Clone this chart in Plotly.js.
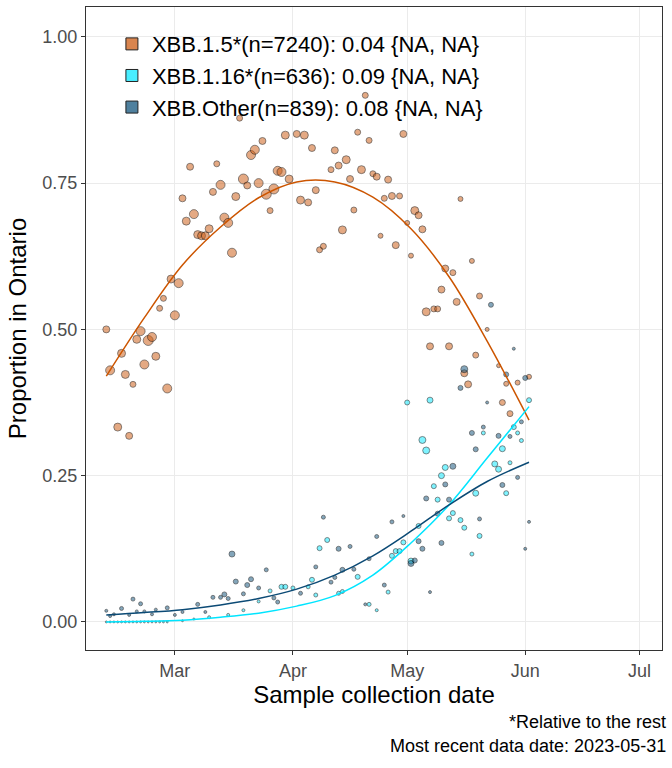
<!DOCTYPE html>
<html>
<head>
<meta charset="utf-8">
<script src="https://cdn.plot.ly/plotly-3.0.1.min.js"></script>
<style>body{margin:0;background:#fff}#chart{width:672px;height:768px}</style>
</head>
<body>
<div id="chart"></div>
<script>
// day offsets are days from 2023-03-01
const xbb15Day = [-18,-17,-15,-14,-13,-12,-11,-10,-9,-8,-7,-6,-5,-4,-3,-2,-1,0,1,2,3,4,5,6,7,8,9,10,11,12,13,14,15,16,17,18,19,20,21,22,23,24,25,26,27,28,29,30,32,33,34,35,36,37,38,39,41,42,43,44,45,46,47,48,49,50,51,52,53,54,55,56,57,58,59,60,61,62,63,64,65,66,67,68,69,70,71,72,73,74,75,76,77,78,79,80,82,85,86,87,88,90,93]
const xbb15Val = [0.50,0.43,0.333,0.459,0.423,0.318,0.406,0.483,0.497,0.44,0.481,0.487,0.454,0.536,0.553,0.399,0.586,0.524,0.579,0.724,0.685,0.778,0.697,0.662,0.66,0.66,0.672,0.735,0.783,0.747,0.691,0.682,0.631,0.727,0.861,0.757,0.746,0.798,0.807,0.75,0.822,0.731,0.703,0.74,0.771,0.769,0.832,0.757,0.834,0.721,0.832,0.717,0.81,0.738,0.636,0.642,0.773,0.806,0.78,0.67,0.79,0.757,0.704,0.837,0.773,0.9,0.823,0.766,0.761,0.66,0.724,0.756,0.728,0.644,0.728,0.834,0.682,0.626,0.703,0.695,0.671,0.53,0.471,0.535,0.535,0.568,0.604,0.471,0.597,0.547,0.723,0.425,0.406,0.617,0.456,0.557,0.50,0.438,0.375,0.407,0.356,0.409,0.419,0.345]
const xbb15Size = [7,9,8,8,8,7,6,8,9,9,10,9,8,6,6,9,8,9,9,7,8,7,9,8,8,8,8,7,6,9,9,9,9,8,6,10,7,9,9,9,7,10,6,10,9,9,8,8,7,8,8,7,7,7,6,6,6,7,7,8,8,7,6,6,8,6,6,6,7,5,6,7,7,7,6,7,5,5,8,7,7,8,7,6,6,7,7,7,6,7,5,7,7,5,6,6,4,4,6,5,6,5,5,5]

const xbb116Day = [-18,-17,-16,-15,-14,-13,-12,-11,-10,-9,-8,-7,-6,-5,-4,-3,-2,2,5,9,14,18,22,25,28,29,31,35,36,37,38,40,43,44,48,51,53,56,57,58,59,60,61,62,64,65,66,67,68,69,70,71,72,73,75,76,78,79,80,81,84,85,86,87,88,89,90,91,93]
const xbb116Val = [0,0,0,0,0,0,0,0,0,0,0,0,0,0,0,0,0,0.002,0.005,0.008,0.012,0.02,0.035,0.053,0.06,0.06,0.058,0.06,0.072,0.046,0.126,0.14,0.049,0.052,0.077,0.03,0.02,0.051,0.113,0.121,0.121,0.136,0.375,0.104,0.164,0.311,0.293,0.379,0.232,0.209,0.25,0.264,0.177,0.186,0.174,0.161,0.116,0.22,0.147,0.323,0.27,0.261,0.296,0.22,0.272,0.333,0.323,0.31,0.379]
const xbb116Size = [2,2,2,2,2,2,2,2,2,2,2,2,2,2,2,2,2,2,2,3,3,3,3,4,5,5,4,4,5,4,5,5,4,4,5,4,3,4,5,5,5,5,5,6,5,7,7,6,5,5,6,6,5,5,5,5,4,6,5,4,6,6,6,5,4,5,4,4,5]

const xbbOtherDay = [-18,-17,-16,-14,-12,-11,-10,-9,-8,-6,-5,-2,0,2,6,8,10,12,13,14,15,16,18,19,20,22,24,26,27,33,37,39,41,42,43,44,46,47,50,51,53,55,57,60,62,63,64,65,66,67,69,70,71,72,73,75,76,78,79,80,81,82,83,85,86,87,88,89,90,91,92,92,93]
const xbbOtherVal = [0.019,0.01,0.013,0.023,0.012,0.039,0.018,0.031,0.018,0.013,0.021,0.024,0.012,0.017,0.03,0.017,0.042,0.042,0.047,0.04,0.116,0.069,0.048,0.063,0.073,0.058,0.089,0.041,0.034,0.049,0.094,0.179,0.068,0.076,0.125,0.089,0.129,0.09,0.03,0.108,0.146,0.063,0.171,0.181,0.1,0.105,0.138,0.125,0.211,0.051,0.185,0.135,0.235,0.209,0.266,0.4,0.432,0.323,0.295,0.176,0.333,0.375,0.542,0.318,0.234,0.423,0.317,0.467,0.247,0.342,0.417,0.125,0.171]
const xbbOtherSize = [3,3,3,4,3,4,3,4,3,3,3,4,3,3,4,3,4,4,5,4,6,5,4,5,5,4,4,4,4,4,4,4,4,4,5,5,4,4,3,4,4,4,4,3,6,5,5,5,5,3,5,5,5,5,6,5,7,5,5,4,4,3,5,5,5,5,4,3,4,4,5,3,3]

// fitted curves
const fitDay = [-18,-8,2,12,22,32,42,52,62,72,82,93]
const fit15 = [0.42,0.52,0.61,0.675,0.725,0.752,0.752,0.726,0.672,0.59,0.48,0.345]
const fit116 = [0,0.001,0.003,0.008,0.015,0.027,0.045,0.08,0.135,0.2,0.28,0.368]
const fitOther = [0.012,0.016,0.021,0.029,0.04,0.056,0.08,0.113,0.155,0.2,0.24,0.273]

const labels = ['XBB.1.5*(n=7240): 0.04 {NA, NA}', 'XBB.1.16*(n=636): 0.09 {NA, NA}', 'XBB.Other(n=839): 0.08 {NA, NA}']
const fills = ['rgba(204,92,20,0.75)', 'rgba(40,235,255,0.85)', 'rgba(20,85,125,0.75)']
const lines = ['#cc5500', '#00e5ff', '#0b4a75']

function toDate(d) {
  return new Date(Date.UTC(2023, 2, 1) + d * 864e5).toISOString().slice(0, 10)
}

function pts(days, vals, sizes, i) {
  return {
    type: 'scatter', mode: 'markers', name: labels[i],
    x: days.map(toDate), y: vals,
    marker: {size: sizes, color: fills[i], line: {color: 'rgba(0,0,0,0.8)', width: 0.8}, symbol: 'circle'},
    showlegend: false
  }
}
function fit(days, vals, i) {
  return {
    type: 'scatter', mode: 'lines', x: days.map(toDate), y: vals,
    line: {color: lines[i], width: 1.5, shape: 'spline', smoothing: 1}, showlegend: false, hoverinfo: 'skip'
  }
}
function legendItem(i) {
  return {
    type: 'scatter', mode: 'markers', name: labels[i], x: [null], y: [null],
    marker: {symbol: 'square', size: 12, color: fills[i], line: {color: '#222', width: 1}}
  }
}

const data = [
  pts(xbb15Day, xbb15Val, xbb15Size, 0),
  pts(xbb116Day, xbb116Val, xbb116Size, 1),
  pts(xbbOtherDay, xbbOtherVal, xbbOtherSize, 2),
  fit(fitDay, fit15, 0),
  fit(fitDay, fit116, 1),
  fit(fitDay, fitOther, 2),
  legendItem(0), legendItem(1), legendItem(2)
]

const layout = {
  width: 672, height: 768,
  margin: {l: 86, r: 10, t: 7, b: 118},
  paper_bgcolor: '#fff', plot_bgcolor: '#fff',
  font: {family: 'Liberation Sans, Arial, sans-serif', color: '#000'},
  xaxis: {
    type: 'date', range: ['2023-02-05 16:00', '2023-07-06 22:00'],
    tickvals: ['2023-03-01', '2023-04-01', '2023-05-01', '2023-06-01', '2023-07-01'],
    ticktext: ['Mar', 'Apr', 'May', 'Jun', 'Jul'],
    tickfont: {size: 18, color: '#4d4d4d'}, ticks: 'outside', ticklen: 4, tickcolor: '#333',
    showgrid: true, gridcolor: '#ebebeb', zeroline: false,
    showline: true, mirror: true, linecolor: '#333', linewidth: 1,
    title: {text: 'Sample collection date', font: {size: 24}, standoff: 6}
  },
  yaxis: {
    range: [-0.048, 1.051],
    tickvals: [0, 0.25, 0.5, 0.75, 1], ticktext: ['0.00', '0.25', '0.50', '0.75', '1.00'],
    tickfont: {size: 18, color: '#4d4d4d'}, ticks: 'outside', ticklen: 4, tickcolor: '#333',
    showgrid: true, gridcolor: '#ebebeb', zeroline: false,
    showline: true, mirror: true, linecolor: '#333', linewidth: 1,
    title: {text: 'Proportion in Ontario', font: {size: 24}, standoff: 8}
  },
  legend: {
    x: 0.045, y: 0.975, xanchor: 'left', yanchor: 'top',
    bgcolor: 'rgba(255,255,255,0)', font: {size: 22}, tracegroupgap: 0, itemwidth: 30
  },
  annotations: [
    {text: '*Relative to the rest', xref: 'paper', yref: 'paper', x: 1.01, y: -0.094, xanchor: 'right', yanchor: 'top', showarrow: false, font: {size: 18}},
    {text: 'Most recent data date: 2023-05-31', xref: 'paper', yref: 'paper', x: 1.01, y: -0.131, xanchor: 'right', yanchor: 'top', showarrow: false, font: {size: 18}}
  ]
}

Plotly.newPlot('chart', data, layout, {displayModeBar: false})
</script>
</body>
</html>
